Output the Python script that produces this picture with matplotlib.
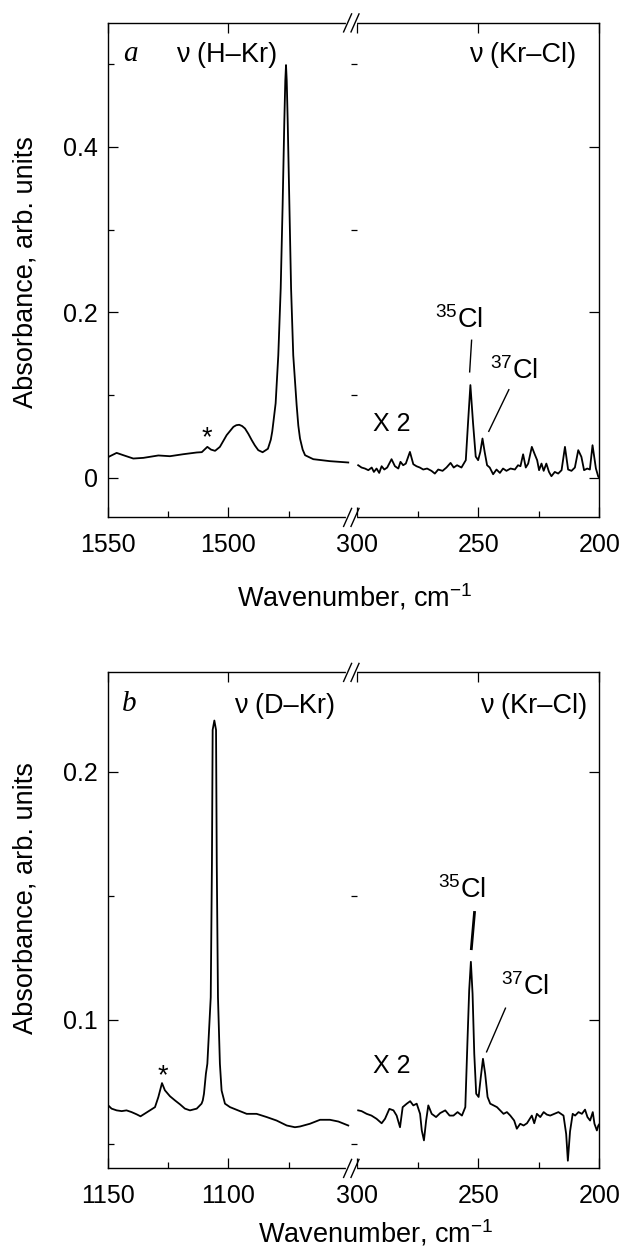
import matplotlib
matplotlib.use("Agg")
import matplotlib.pyplot as plt
from matplotlib.lines import Line2D

plt.rcParams['font.family'] = ['Liberation Sans', 'DejaVu Sans']
plt.rcParams['mathtext.fontset'] = 'custom'
plt.rcParams['mathtext.rm'] = 'Liberation Sans'
plt.rcParams['mathtext.it'] = 'Liberation Sans:italic'

# ---------------- data ----------------
# panel a, H-Kr region
a_hkr_x = [1550.2, 1546.3, 1543.5, 1539.4, 1535.2, 1529.0, 1524.2, 1518.7, 1513.1,
           1511.0, 1508.7, 1507.2, 1505.5, 1503.5, 1500.7, 1499.3, 1497.9, 1496.7,
           1495.5, 1494.3, 1493.1, 1491.7, 1490.3, 1489.0, 1487.6, 1485.8, 1483.6,
           1482.4, 1481.8, 1481.3, 1480.4, 1479.3, 1478.3, 1477.5, 1476.8, 1476.4,
           1476.1, 1475.8, 1475.4, 1474.7, 1474.0, 1473.1, 1471.7, 1471.0, 1470.3,
           1469.2, 1468.2, 1464.8, 1457.9, 1450.3]
a_hkr_y = [0.0244, 0.0300, 0.0272, 0.0232, 0.0240, 0.0269, 0.0260, 0.0284, 0.0305,
           0.0309, 0.0373, 0.0340, 0.0325, 0.0373, 0.0515, 0.0565, 0.0615, 0.0635,
           0.0640, 0.0625, 0.0595, 0.0530, 0.0454, 0.0390, 0.0333, 0.0308, 0.0350,
           0.0460, 0.0560, 0.0680, 0.0900, 0.1480, 0.2290, 0.3300, 0.4310, 0.4800,
           0.4990, 0.4800, 0.4310, 0.3300, 0.2290, 0.1480, 0.0880, 0.0630, 0.0474,
           0.0340, 0.0272, 0.0224, 0.0200, 0.0184]

# panel a, Kr-Cl region (x2)
a_krcl_x = [299.7, 298.3, 296.9, 295.5, 294.1, 293.2, 292.1, 291.0, 290.0, 288.9,
            287.7, 285.9, 284.5, 283.1, 282.2, 281.1, 280.0, 278.3, 276.9, 275.6,
            274.2, 272.8, 271.2, 269.4, 268.0, 266.6, 264.8, 263.2, 261.5, 260.2,
            258.8, 257.0, 255.2, 254.2, 253.3, 252.2, 251.1, 250.1, 249.2, 248.3,
            247.4, 246.4, 245.3, 243.9, 242.5, 241.1, 239.8, 238.4, 236.7, 234.9,
            233.6, 232.6, 231.5, 230.4, 229.4, 227.9, 226.7, 225.7, 224.9, 223.9,
            223.0, 221.9, 220.8, 219.8, 218.4, 217.0, 215.6, 214.2, 212.9, 211.5,
            210.1, 208.7, 207.4, 206.3, 205.0, 203.9, 202.8, 201.4, 200.4, 199.7]
a_krcl_y = [0.0151, 0.0123, 0.0111, 0.0091, 0.0123, 0.0070, 0.0111, 0.0058, 0.0139, 0.0099,
            0.0123, 0.0224, 0.0139, 0.0111, 0.0192, 0.0151, 0.0171, 0.0312, 0.0163, 0.0139,
            0.0123, 0.0099, 0.0111, 0.0083, 0.0050, 0.0099, 0.0083, 0.0123, 0.0179, 0.0123,
            0.0151, 0.0123, 0.0212, 0.0700, 0.1120, 0.0660, 0.0256, 0.0212, 0.0312, 0.0474,
            0.0312, 0.0151, 0.0123, 0.0042, 0.0099, 0.0058, 0.0111, 0.0083, 0.0111, 0.0099,
            0.0151, 0.0139, 0.0283, 0.0123, 0.0171, 0.0373, 0.0283, 0.0212, 0.0091, 0.0171,
            0.0083, 0.0171, 0.0070, 0.0018, 0.0070, 0.0050, 0.0091, 0.0373, 0.0099, 0.0083,
            0.0123, 0.0333, 0.0252, 0.0091, 0.0111, 0.0099, 0.0393, 0.0111, 0.0010, 0.0002]

# panel b, D-Kr region
b_dkr_x = [1150.2, 1148.4, 1146.3, 1144.2, 1142.2, 1140.1, 1138.0, 1136.4, 1134.6, 1132.5,
           1130.4, 1129.0, 1127.5, 1126.3, 1124.2, 1122.1, 1120.0, 1118.0, 1115.9, 1113.1,
           1111.1, 1110.6, 1110.1, 1109.3, 1108.7, 1107.3, 1106.8, 1106.5, 1105.8, 1105.1,
           1104.8, 1104.3, 1103.5, 1102.8, 1101.4, 1099.3, 1096.5, 1092.4, 1088.3, 1084.1,
           1080.0, 1075.8, 1072.4, 1070.3, 1066.2, 1062.0, 1057.9, 1054.4, 1050.3]
b_dkr_y = [0.0658, 0.0641, 0.0634, 0.0631, 0.0634, 0.0627, 0.0618, 0.0610, 0.0621, 0.0634,
           0.0647, 0.0688, 0.0744, 0.0715, 0.0691, 0.0674, 0.0658, 0.0641, 0.0634, 0.0641,
           0.0661, 0.0674, 0.0701, 0.0782, 0.0822, 0.1090, 0.1630, 0.2168, 0.2206, 0.2168,
           0.1630, 0.1090, 0.0822, 0.0714, 0.0661, 0.0647, 0.0636, 0.0620, 0.0620, 0.0607,
           0.0593, 0.0573, 0.0566, 0.0569, 0.0580, 0.0596, 0.0596, 0.0589, 0.0573]

# panel b, Kr-Cl region (x2)
b_krcl_x = [299.7, 298.3, 296.2, 294.2, 292.1, 290.0, 288.6, 286.8, 285.1, 283.8,
            282.4, 281.3, 279.6, 278.2, 276.9, 275.5, 274.1, 273.4, 272.5, 271.6,
            270.7, 269.3, 267.5, 265.8, 263.7, 261.9, 260.3, 258.6, 256.8, 255.4,
            254.5, 253.8, 253.1, 252.4, 251.7, 250.9, 249.9, 249.0, 248.1, 247.2,
            246.2, 245.1, 243.7, 242.3, 241.0, 239.6, 238.2, 236.8, 235.2, 234.1,
            232.7, 231.3, 229.9, 227.9, 226.9, 225.8, 224.4, 223.0, 221.7, 220.3,
            218.6, 216.9, 214.8, 213.7, 213.0, 212.1, 211.0, 210.0, 208.6, 207.2,
            205.9, 204.9, 203.8, 202.7, 202.0, 201.0, 200.4, 199.7]
b_krcl_y = [0.0634, 0.0631, 0.0620, 0.0613, 0.0600, 0.0582, 0.0600, 0.0640, 0.0634, 0.0613,
            0.0566, 0.0647, 0.0661, 0.0671, 0.0654, 0.0661, 0.0620, 0.0553, 0.0513, 0.0593,
            0.0654, 0.0620, 0.0607, 0.0623, 0.0634, 0.0613, 0.0613, 0.0627, 0.0613, 0.0647,
            0.0916, 0.1118, 0.1233, 0.1104, 0.0862, 0.0701, 0.0688, 0.0768, 0.0842, 0.0782,
            0.0688, 0.0661, 0.0654, 0.0647, 0.0634, 0.0620, 0.0627, 0.0613, 0.0593, 0.0560,
            0.0580, 0.0573, 0.0582, 0.0613, 0.0582, 0.0620, 0.0607, 0.0627, 0.0617, 0.0613,
            0.0620, 0.0627, 0.0613, 0.0539, 0.0431, 0.0549, 0.0620, 0.0613, 0.0627, 0.0620,
            0.0637, 0.0607, 0.0593, 0.0627, 0.0580, 0.0553, 0.0573, 0.0582]

W, H = 626, 1251
TICK_FS = 18
LAB_FS = 19.5

fig = plt.figure(figsize=(W / 100, H / 100), dpi=100)


def frac(px, py):
    return px / W, 1 - py / H


def make_panel(top, bottom, xl_lim, ylim, left_ticks, left_minor, yticks, ylabels, yminor):
    x0, x_break, x1 = 107.7, 351.4, 599.3
    fb = 1 - bottom / H
    fh = (bottom - top) / H
    ax1 = fig.add_axes([x0 / W, fb, (x_break - x0) / W, fh])
    ax2 = fig.add_axes([x_break / W, fb, (x1 - x_break) / W, fh])
    ax1.set_xlim(*xl_lim)
    ax2.set_xlim(302.5, 200)
    for ax in (ax1, ax2):
        ax.set_ylim(*ylim)
        for s in ax.spines.values():
            s.set_linewidth(1.0)
        ax.tick_params(which='both', direction='in', labelsize=TICK_FS, width=0.9)
        ax.tick_params(which='major', length=7)
        ax.tick_params(which='minor', length=4)
        ax.tick_params(axis='x', pad=11)
        ax.tick_params(axis='y', pad=7)
    ax1.spines['right'].set_visible(False)
    ax2.spines['left'].set_visible(False)
    ax1.tick_params(top=True, right=False, left=True)
    ax2.tick_params(top=True, right=True, left=False, labelleft=False)

    ax1.set_xticks(left_ticks)
    ax1.set_xticklabels([str(t) for t in left_ticks])
    ax1.set_xticks(left_minor, minor=True)
    ax2.set_xticks([300, 250, 200])
    ax2.set_xticklabels(['300', '250', '200'])
    ax2.set_xticks([275, 225], minor=True)
    for ax in (ax1, ax2):
        ax.set_yticks(yticks)
        ax.set_yticks(yminor, minor=True)
    ax1.set_yticklabels(ylabels)

    # break marks
    for py in (top, bottom):
        xa, ya = frac(347.6, py)
        xb, yb = frac(355.0, py)
        fig.add_artist(Line2D([xa, xb], [ya, yb], color='white', lw=3, transform=fig.transFigure))
        for cx in (347.6, 355.0):
            p0 = frac(cx - 4, py + 9)
            p1 = frac(cx + 4, py - 9)
            fig.add_artist(Line2D([p0[0], p1[0]], [p0[1], p1[1]], color='black', lw=1.0,
                                  transform=fig.transFigure))
    return ax1, ax2


# ---------------- panel a ----------------
a1, a2 = make_panel(22.9, 517.4, (1550, 1449.0), (-0.048, 0.550),
                    [1550, 1500], [1525, 1475],
                    [0, 0.2, 0.4], ['0', '0.2', '0.4'], [0.1, 0.3, 0.5])
a1.plot(a_hkr_x, a_hkr_y, color='black', lw=1.3)
a2.plot(a_krcl_x, a_krcl_y, color='black', lw=1.3)

a1.text(1540.6, 0.504, 'a', family='Liberation Serif', style='italic', fontsize=21,
        ha='center', va='baseline')
a1.text(1500.8, 0.511, 'ν (H–Kr)', fontsize=LAB_FS, ha='center', va='center')
a2.text(231.6, 0.511, 'ν (Kr–Cl)', fontsize=LAB_FS, ha='center', va='center')
a1.text(1508.7, 0.039, '*', fontsize=LAB_FS, ha='center', va='baseline')
a2.text(285.9, 0.056, 'X 2', fontsize=TICK_FS, ha='center', va='baseline')
a2.text(258.0, 0.1806, '$^{35}$Cl', fontsize=LAB_FS, ha='center', va='baseline')
a2.text(235.3, 0.1193, '$^{37}$Cl', fontsize=LAB_FS, ha='center', va='baseline')
a2.plot([252.8, 253.6], [0.1662, 0.128], color='black', lw=1.0)
a2.plot([237.4, 245.7], [0.1064, 0.0561], color='black', lw=1.0)

fig.text(*frac(26, 272), 'Absorbance, arb. units', rotation=90, fontsize=LAB_FS,
         ha='center', va='center')
fig.text(*frac(354.6, 597), 'Wavenumber, cm$^{-1}$', fontsize=LAB_FS,
         ha='center', va='center')

# ---------------- panel b ----------------
b1, b2 = make_panel(672.4, 1168.4, (1150, 1049.0), (0.040, 0.240),
                    [1150, 1100], [1125, 1075],
                    [0.1, 0.2], ['0.1', '0.2'], [0.05, 0.15])
b1.plot(b_dkr_x, b_dkr_y, color='black', lw=1.3)
b2.plot(b_krcl_x, b_krcl_y, color='black', lw=1.3)

b1.text(1141.2, 0.2246, 'b', family='Liberation Serif', style='italic', fontsize=21,
        ha='center', va='baseline')
b1.text(1076.7, 0.2263, 'ν (D–Kr)', fontsize=LAB_FS, ha='center', va='center')
b2.text(227.0, 0.2263, 'ν (Kr–Cl)', fontsize=LAB_FS, ha='center', va='center')
b1.text(1127.1, 0.0743, '*', fontsize=LAB_FS, ha='center', va='baseline')
b2.text(285.7, 0.0786, 'X 2', fontsize=TICK_FS, ha='center', va='baseline')
b2.text(256.8, 0.1489, '$^{35}$Cl', fontsize=LAB_FS, ha='center', va='baseline')
b2.text(230.9, 0.1098, '$^{37}$Cl', fontsize=LAB_FS, ha='center', va='baseline')
b2.plot([251.6, 252.9], [0.1432, 0.1286], color='black', lw=2.0)
b2.plot([238.8, 246.6], [0.1046, 0.0870], color='black', lw=1.0)

fig.text(*frac(26, 898), 'Absorbance, arb. units', rotation=90, fontsize=LAB_FS,
         ha='center', va='center')
fig.text(*frac(375.4, 1233), 'Wavenumber, cm$^{-1}$', fontsize=LAB_FS,
         ha='center', va='center')

fig.savefig('out.png', dpi=100)
